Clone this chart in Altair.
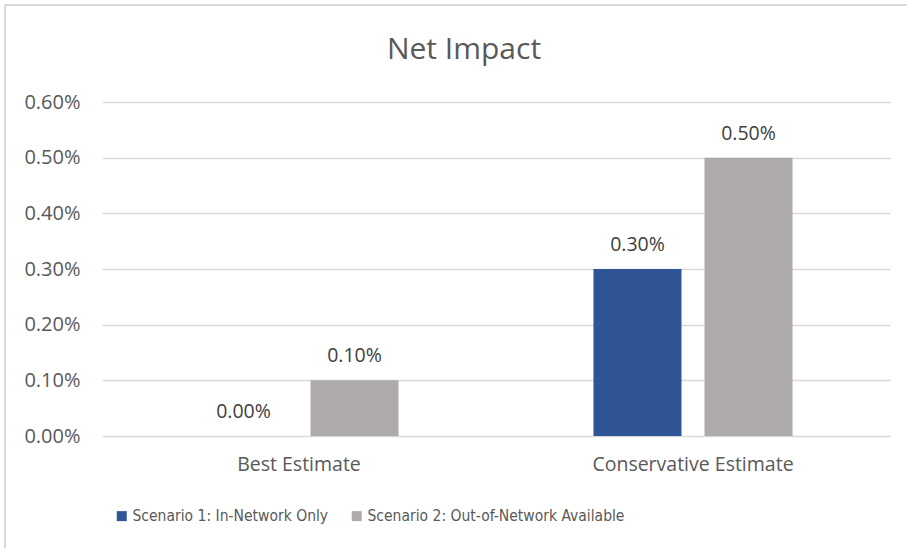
import altair as alt
import pandas as pd

categories = ["Best Estimate", "Conservative Estimate"]
scenarios = ["Scenario 1: In-Network Only", "Scenario 2: Out-of-Network Available"]
scenario1 = [0.0000, 0.0030]
scenario2 = [0.0010, 0.0050]
y_ticks = [0.0, 0.001, 0.002, 0.003, 0.004, 0.005, 0.006]
colors = ["#2F5597", "#AEAAAA"]
chart_title = ["Net Impact"]

rows = []
for c, a, b in zip(categories, scenario1, scenario2):
    rows.append({"cat": c, "scen": scenarios[0], "val": a})
    rows.append({"cat": c, "scen": scenarios[1], "val": b})
df = pd.DataFrame(rows)
title_df = pd.DataFrame({"t": chart_title})

FONT = "Liberation Sans Narrow, DejaVu Sans Condensed, Roboto"
AXFONT = "Open Sans, Noto Sans"
GREY = "#595959"

x = alt.X("cat:N", sort=categories, title=None,
          scale=alt.Scale(paddingInner=0, paddingOuter=0),
          axis=alt.Axis(labelAngle=0, ticks=False, domain=False, labelPadding=19,
                        labelFontSize=19.5, labelColor=GREY, labelFont=AXFONT, grid=False,
                        labelLimit=0))
xo = alt.XOffset("scen:N", sort=scenarios,
                 scale=alt.Scale(paddingInner=0.207, paddingOuter=0.878))
y = alt.Y("val:Q", title=None,
          scale=alt.Scale(domain=[0, 0.006], nice=False),
          axis=alt.Axis(values=y_ticks, format=".2%", ticks=False, domain=False,
                        labelPadding=22, labelFontSize=20, labelColor=GREY, labelFont=AXFONT,
                        gridColor="#D9D9D9", gridWidth=1.3))

bars = alt.Chart(df).mark_bar().encode(
    x=x, xOffset=xo, y=y,
    color=alt.Color("scen:N", sort=scenarios,
                    scale=alt.Scale(domain=scenarios, range=colors),
                    legend=alt.Legend(title=None, orient="none", direction="horizontal",
                                      legendX=12, legendY=406, symbolType="square",
                                      symbolSize=100, symbolStrokeWidth=0,
                                      labelFont=FONT, labelFontSize=15.5, labelColor=GREY,
                                      labelLimit=0, columnPadding=20, labelOffset=3)),
)

labels = alt.Chart(df).mark_text(baseline="alphabetic", dy=-18, fontSize=19.5,
                                 font=AXFONT, color="#404040").encode(
    x=alt.X("cat:N", sort=categories), xOffset=alt.XOffset("scen:N", sort=scenarios),
    y="val:Q", text=alt.Text("val:Q", format=".2%"),
)

title = alt.Chart(title_df).mark_text(fontSize=30, font=AXFONT, color=GREY,
                                      baseline="middle", align="center").encode(
    x=alt.value(362), y=alt.value(-52), text="t:N")

frame_top = alt.Chart(title_df).mark_rule(color="#D9D9D9", strokeWidth=2).encode(
    x=alt.value(-97), x2=alt.value(810), y=alt.value(-97))
frame_left = alt.Chart(title_df).mark_rule(color="#D9D9D9", strokeWidth=2).encode(
    x=alt.value(-97), y=alt.value(-97), y2=alt.value(450))

chart = alt.layer(frame_top, frame_left, bars, labels, title).properties(
    width=788, height=334,
    padding={"left": 102, "top": 102, "right": 17, "bottom": 112},
    autosize=alt.AutoSizeParams(type="none"),
).configure_view(stroke=None)

chart.save("out.html", embed_options={"renderer": "svg", "actions": False})
